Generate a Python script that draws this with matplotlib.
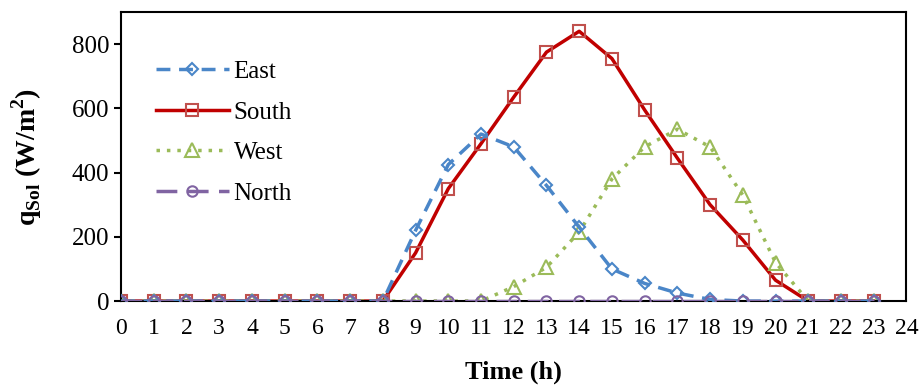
import matplotlib
matplotlib.use("Agg")
import matplotlib.pyplot as plt

# Dati (ore 0-23)
hours = list(range(24))
east = [0, 0, 0, 0, 0, 0, 0, 0, 0, 220, 425, 520, 480, 360, 230, 100, 55, 25, 5, 0, 0, 0, 0, 0]
south = [0, 0, 0, 0, 0, 0, 0, 0, 0, 150, 350, 490, 635, 775, 840, 755, 595, 445, 300, 190, 65, 0, 0, 0]
west = [0, 0, 0, 0, 0, 0, 0, 0, 0, 0, 0, 0, 45, 105, 215, 380, 480, 535, 480, 330, 120, 0, 0, 0]
north = [0] * 24
xticks = list(range(25))
yticks = [0, 200, 400, 600, 800]

plt.rcParams['font.family'] = ['Liberation Serif', 'DejaVu Serif']

fig = plt.figure(figsize=(9.24, 3.87), dpi=100)
ax = fig.add_axes([0.131, 0.222, 0.85, 0.747])

ax.plot(hours, east, color='#4a86c8', ls=(0, (4, 2.5)), lw=2.5, marker='D', ms=6.5,
        mfc='none', mec='#4a86c8', mew=1.5, label='East', zorder=3)
ax.plot(hours, south, color='#c00000', ls='-', lw=2.5, marker='s', ms=9,
        mfc='none', mec='#c0504d', mew=1.5, label='South', zorder=2)
ax.plot(hours, west, color='#9bbb59', ls=(0, (1, 2)), lw=2.5, marker='^', ms=10,
        mfc='none', mec='#9bbb59', mew=1.5, label='West', zorder=2)
ax.plot(hours, north, color='#8064a2', ls=(0, (6, 3)), lw=2.5, marker='o', ms=7.5,
        mfc='none', mec='#8064a2', mew=1.5, label='North', zorder=4)

ax.set_xlim(0, 24)
ax.set_ylim(0, 900)
ax.set_xticks(xticks)
ax.set_yticks(yticks)
ax.tick_params(axis='x', length=0, labelsize=17, pad=12)
ax.tick_params(axis='y', direction='out', length=5, width=1.5, labelsize=18)
for s in ax.spines.values():
    s.set_linewidth(1.5)

ax.set_xlabel('Time (h)', fontsize=19, fontweight='bold', labelpad=16)
ax.set_ylabel(r'q$_\mathregular{Sol}$ (W/m$^\mathregular{2}$)', fontsize=20, fontweight='bold', labelpad=20)

ax.legend(loc='upper left', bbox_to_anchor=(0.016, 0.91), frameon=False, fontsize=18,
          handlelength=2.9, labelspacing=0.72, handletextpad=0.2)

fig.savefig('out.png', dpi=100)
